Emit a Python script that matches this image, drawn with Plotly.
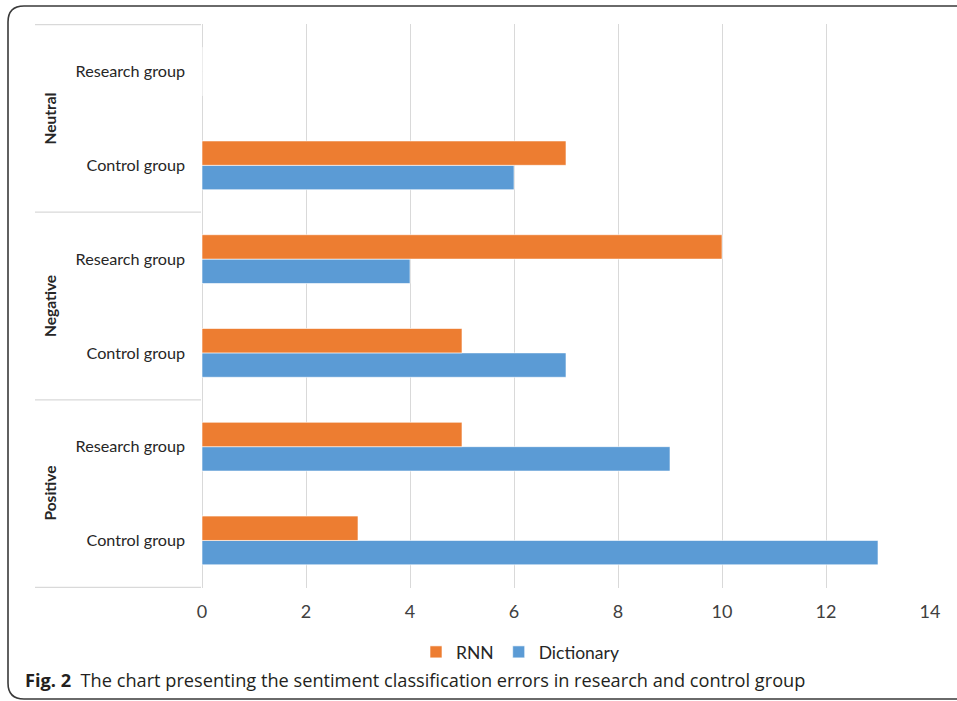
import plotly.graph_objects as go

# ---- data ----
sentiments = ["Positive", "Positive", "Negative", "Negative", "Neutral", "Neutral"]
groups = ["Control group", "Research group", "Control group", "Research group", "Control group", "Research group"]
dictionary = [13, 9, 7, 4, 6, 0]
rnn = [3, 5, 5, 10, 7, 0]
x_ticks = [0, 2, 4, 6, 8, 10, 12, 14]

keys = [f"{s}|{g}" for s, g in zip(sentiments, groups)]

W, H = 957, 701
ML, MR, MT, MB = 202, 27, 24, 113
PW, PH = W - ML - MR, H - MT - MB

def px(x):
    return (x - ML) / PW

def py(y):
    return (H - MB - y) / PH

ORANGE = "#ED7D31"
BLUE = "#5B9BD5"
GRID = "#D9D9D9"
TXT = "#404040"
FONT = "Lato"

fig = go.Figure()
fig.add_trace(go.Bar(y=keys, x=dictionary, orientation="h", name="Dictionary",
                     marker=dict(color=BLUE, line=dict(color="white", width=0.6))))
fig.add_trace(go.Bar(y=keys, x=rnn, orientation="h", name="RNN",
                     marker=dict(color=ORANGE, line=dict(color="white", width=0.6))))

shapes = []
# group dividers on the label column
bounds = [-0.5]
for i in range(1, len(sentiments)):
    if sentiments[i] != sentiments[i - 1]:
        bounds.append(i - 0.5)
bounds.append(len(sentiments) - 0.5)
for b in bounds:
    shapes.append(dict(type="line", xref="paper", yref="y", x0=px(35), x1=px(201),
                       y0=b, y1=b, line=dict(color=GRID, width=1.3)))

# rounded figure frame (right side runs off the page)
l, t, r, btm, rad = px(8), py(6), px(1100), py(699), 16
path = (f"M {px(8+rad)},{t} L {r},{t} L {r},{btm} L {px(8+rad)},{btm} "
        f"Q {l},{btm} {l},{py(699-rad)} L {l},{py(6+rad)} Q {l},{t} {px(8+rad)},{t}")
shapes.append(dict(type="path", xref="paper", yref="paper", path=path,
                   line=dict(color="#3a3a3a", width=1.6)))

annotations = []
seen = []
for s in sentiments:
    if s not in seen:
        seen.append(s)
for s in seen:
    idx = [i for i, v in enumerate(sentiments) if v == s]
    annotations.append(dict(text=f"<b>{s}</b>", xref="paper", yref="y", x=px(50),
                            y=sum(idx) / len(idx), textangle=-90, showarrow=False,
                            font=dict(family=FONT, size=15.5, color="#262626"),
                            xanchor="center", yanchor="middle"))

annotations.append(dict(
    text="<b>Fig. 2</b>  The chart presenting the sentiment classification errors in research and control group",
    xref="paper", yref="paper", x=px(23), y=py(680), xanchor="left", yanchor="middle",
    showarrow=False, font=dict(family="Open Sans", size=18.2, color="#231f20")))

fig.update_layout(
    width=W, height=H,
    margin=dict(l=ML, r=MR, t=MT, b=MB),
    paper_bgcolor="white", plot_bgcolor="white",
    barmode="group", bargap=0.48, bargroupgap=0,
    font=dict(family=FONT, color=TXT),
    showlegend=True,
    legend=dict(orientation="h", traceorder="reversed", x=px(520), xanchor="center",
                y=py(652), yanchor="middle", font=dict(family=FONT, size=17.5, color="#262626"),
                itemwidth=30, bgcolor="rgba(0,0,0,0)"),
    shapes=shapes,
    annotations=annotations,
)
fig.update_xaxes(range=[0, 14], tickvals=x_ticks, showgrid=True, gridcolor=GRID, gridwidth=1.3,
                 zeroline=True, zerolinecolor=GRID, zerolinewidth=1.3, showline=False,
                 tickfont=dict(family=FONT, size=18, color=TXT), ticks="", ticklabelstandoff=11,
                 fixedrange=True)
fig.update_yaxes(type="category", categoryorder="array", categoryarray=keys,
                 tickvals=keys, ticktext=groups, showgrid=False, zeroline=False, showline=False,
                 tickfont=dict(family=FONT, size=16.2, color="#262626"), ticks="",
                 ticklabelstandoff=16, fixedrange=True)

fig.write_html("out.html")
